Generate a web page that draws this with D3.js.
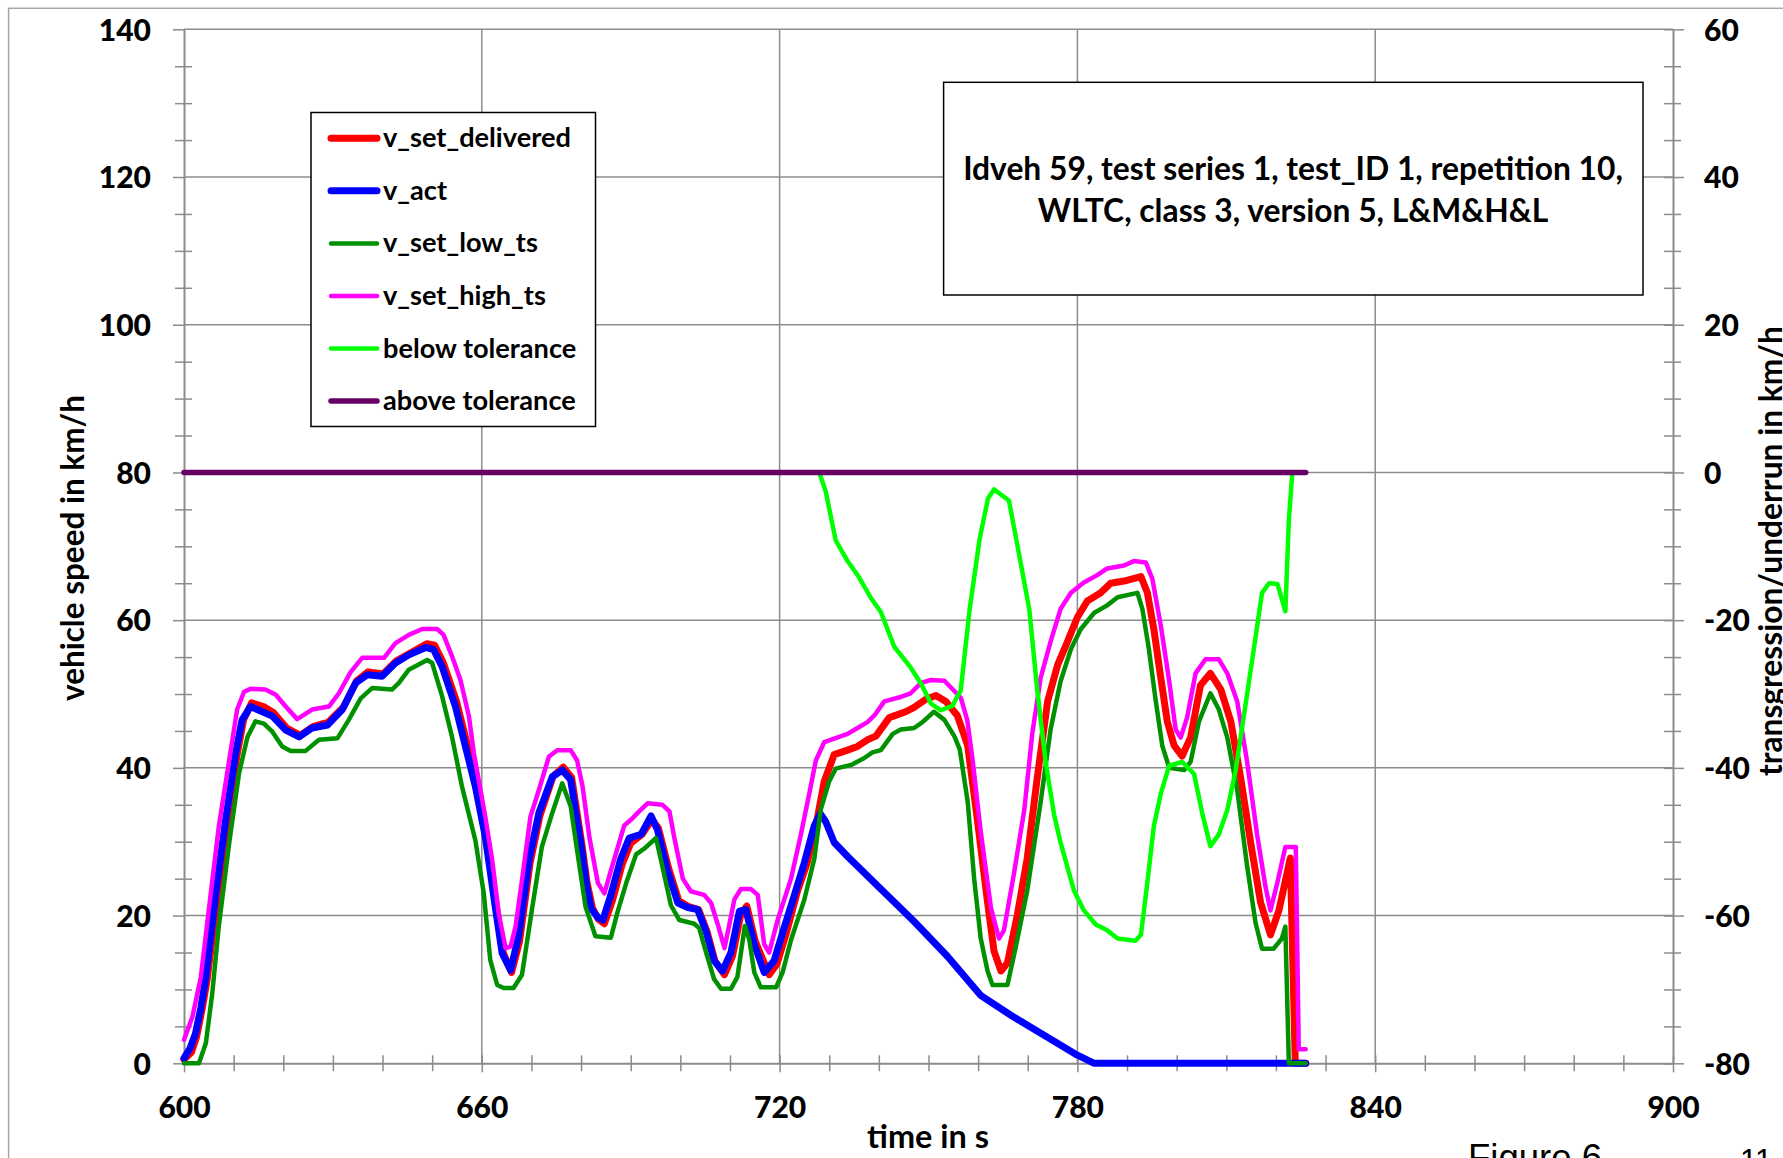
<!DOCTYPE html>
<html><head><meta charset="utf-8">
<script src="https://cdn.jsdelivr.net/npm/d3@7"></script>
<style>
html,body{margin:0;padding:0;background:#fff;overflow:hidden;}
svg{display:block;}
</style></head><body>
<svg id="chart" width="1783" height="1158"></svg>
<script>
// ---------------- DATA ----------------
const xTicks = [600, 660, 720, 780, 840, 900];
const xMinorTicks = [610,620,630,640,650,670,680,690,700,710,730,740,750,760,770,790,800,810,820,830,850,860,870,880,890];
const yLeftTicks = [0, 20, 40, 60, 80, 100, 120, 140];
const yRightTicks = [-80, -60, -40, -20, 0, 20, 40, 60];

const legendNames = ['v_set_delivered','v_act','v_set_low_ts','v_set_high_ts','below tolerance','above tolerance'];
const titleLines = ['Idveh 59, test series 1, test_ID 1, repetition 10,', 'WLTC, class 3, version 5, L&M&H&L'];

// [time in s, km/h]
const vSetDelivered = [[600,0.5],[601.5,1.5],[602.5,3.5],[603.7,7.5],[604.7,11.5],[606.7,22.5],[608.7,32.5],[610.7,41.8],[612,46.5],[613.6,48.8],[616,48.3],[618,47.5],[620.7,45.4],[623.4,44.4],[626,45.6],[629.1,46.2],[632.1,48.2],[634.8,51.8],[637.1,53],[640.1,52.7],[642.8,54.5],[645.5,55.5],[648.9,56.8],[650.5,56.6],[652.2,54.3],[654.9,49],[656.9,43.6],[658.9,38],[660.9,31],[663,21],[664.3,15],[666,12.3],[667.6,16.5],[669.7,27],[671.7,33.5],[674.4,38.9],[676.4,40.1],[678.1,38.7],[680.2,29.5],[681.2,24.5],[682.3,21],[683.5,19.5],[684.7,18.9],[686.3,22],[688.3,27],[690,29.8],[692.3,31],[694.3,33],[695.6,31.8],[697.6,26.5],[699.7,22],[701.7,21.2],[703.7,20.8],[705.4,17.8],[707,13.8],[708.9,12],[710.5,14.5],[712.2,20.2],[713.4,21.3],[715.1,16.5],[717.9,12],[719.5,13.5],[721.3,17.5],[723.6,23.3],[725.5,27],[727,31],[729,38.2],[731,41.8],[733.7,42.4],[735.7,42.9],[737.7,43.8],[739.4,44.3],[742.1,46.8],[745.4,47.6],[747.1,48.2],[749.5,49.3],[751.5,49.8],[753.5,49],[755.8,47.1],[757.9,43],[759.9,32.7],[761.9,21.8],[763.2,15.2],[764.6,12.5],[765.9,13.6],[767.9,20.1],[769.9,27.8],[771.9,38.6],[774,49],[776,53.9],[778,57.1],[780,60.4],[782,62.6],[784.7,63.7],[786.7,65],[789.4,65.3],[792.8,65.9],[794.1,63.7],[795.4,58.8],[796.8,52.2],[798.1,46.3],[799.5,43],[801.1,41.6],[802.8,44.1],[804.8,51.2],[806.8,52.8],[808.9,50.6],[810.9,46.3],[812.9,38.6],[814.9,29.9],[816.9,21.8],[818.9,17.4],[820.6,20.7],[822.9,27.8],[823.9,0],[826,0]];

const vAct = [[600,0.7],[601.2,2],[602.3,4],[603.4,7.5],[604.4,11.7],[606.4,23],[608.4,33],[610.4,42],[611.7,46.5],[613.4,48.3],[615.8,47.6],[617.8,47],[620.5,45.1],[623.2,44.2],[625.8,45.4],[628.9,45.8],[631.9,47.9],[634.6,51.5],[636.9,52.6],[639.9,52.4],[642.6,54.2],[645.3,55.3],[648.7,56.3],[650.3,56],[652,53.7],[654.7,48.3],[656.7,42.9],[658.7,37.5],[660.7,30.7],[662.8,20.8],[664.1,14.9],[665.8,12.6],[667.4,17.2],[669.5,27.5],[671.5,33.9],[674.2,38.8],[676.2,39.7],[677.9,38.4],[680,29.5],[681,24.5],[682,21],[683.3,19.8],[684.4,19.4],[686,22.8],[688,27.7],[689.7,30.5],[692.1,31],[694.1,33.5],[695.4,31.6],[697.4,26.1],[699.5,21.7],[701.5,21.1],[703.5,20.8],[705.2,17.8],[706.8,13.9],[708.5,12.5],[710.2,15],[711.9,20.6],[713.2,20.8],[714.9,16.1],[716.9,12.3],[718.9,13.9],[720.9,18.3],[723,22.8],[725,27.2],[727,32.2],[728.2,33.8],[729.3,32.7],[731,29.9],[733.7,28],[740.4,23.6],[747.1,19.2],[753.8,14.5],[760.5,9.2],[766.6,6.5],[773.3,3.8],[780,1.1],[783.4,0],[826,0]];

const vSetLowTs = [[600,0],[603,0],[604.4,2.7],[605.7,9.5],[607,18.5],[609.1,29.8],[611.1,39.3],[612.8,44.2],[614.4,46.3],[616.1,46],[617.8,44.9],[619.8,42.9],[621.5,42.3],[624.5,42.3],[627.2,43.8],[630.9,44],[633.2,46.5],[635.6,49.4],[637.9,50.8],[641.9,50.6],[643.3,51.5],[645.3,53.3],[649,54.6],[650,54.2],[652,49.7],[654,44.2],[656,37.5],[658.7,30.2],[660.4,23],[661.7,14],[663.1,10.6],[664.4,10.2],[666.4,10.2],[668.1,12],[670.1,20.8],[672.1,29.3],[674.2,33.9],[676.2,37.9],[677.9,34.8],[679.5,27.5],[680.9,21.2],[682.9,17.2],[686,17],[687.4,20.6],[689.1,24.4],[691.1,28.3],[692.8,29.1],[695.1,30.5],[696.4,26.6],[698.1,21.4],[699.8,19.4],[702.8,18.9],[703.8,18.3],[705.2,15],[706.8,11.4],[708.2,10.1],[710.2,10.1],[711.5,11.7],[713,18.6],[713.9,16.7],[714.9,12.3],[716.2,10.3],[719.3,10.3],[720.6,12.3],[722.3,16.7],[725,22.2],[727,27.7],[728.3,34.4],[730,38.2],[731.3,39.9],[734.4,40.4],[737,41.3],[738.7,42.1],[740.4,42.4],[742.8,44.6],[744.4,45.2],[747.1,45.4],[748.8,46.2],[751.1,47.6],[753.2,46.5],[755.2,44.3],[756.3,42.5],[757.9,35.4],[759.2,25],[760.5,17],[761.9,12.5],[762.9,10.6],[765.9,10.6],[767.6,15.8],[769.9,23.4],[772.6,35.4],[774.6,45.2],[776.6,51.7],[778.7,56.1],[780.7,58.8],[783.4,61],[786,62],[788.1,63.1],[792.1,63.7],[793.1,61.5],[794.4,56.1],[795.7,49.5],[797.1,43],[798.5,40],[801.5,39.7],[802.8,40.8],[804.5,46.3],[806.8,50.1],[808.5,47.9],[810.2,44.1],[812.2,37],[814.2,26.7],[815.9,19],[817.2,15.5],[819.5,15.5],[821.2,16.9],[821.9,18.5],[822.6,0],[826,0]];

const vSetHighTs = [[600,3.2],[601.7,6.3],[603.4,11.7],[605,20.8],[607,32],[609.1,41],[610.7,47.9],[612.1,50.3],[613.4,50.7],[616.4,50.6],[618.5,49.9],[620.5,48.3],[622.8,46.6],[625.8,47.9],[629.2,48.3],[631.2,50.1],[633.6,53],[635.9,54.9],[640.3,54.9],[642.6,56.9],[645.3,58],[648,58.8],[651,58.8],[652.3,58],[654,55.1],[655.7,51.9],[657.4,47],[658.4,42],[660.7,33.4],[662.1,27.5],[663.4,20.3],[664.8,15.6],[665.8,15.8],[666.8,18.5],[668.1,24.8],[669.8,33.4],[671.5,37],[673.5,41.5],[675.2,42.4],[677.9,42.4],[679.2,41],[680.3,37.5],[681.7,30.5],[683.4,24.4],[684.7,23],[686,26.1],[688.7,32.2],[690.1,33],[691.7,34.1],[693.4,35.2],[696.4,35],[697.8,34.1],[698.8,30.5],[700.5,25],[702.1,23.3],[704.8,22.8],[706.2,21.7],[707.5,18.9],[708.9,15.6],[710.9,22.2],[712.2,23.6],[714.2,23.6],[715.6,22.8],[716.9,16.1],[717.9,15],[719.6,19.4],[722.3,25],[724.3,31],[726,36.6],[727.3,41],[729,43.5],[733.7,44.6],[735.7,45.4],[737.7,46.2],[739.1,47.1],[741.1,49],[744.4,49.6],[746.4,50.1],[748.5,51.5],[750.5,51.9],[753.2,51.8],[755.2,50.4],[756.5,49.5],[757.8,46.5],[758.9,41],[760.5,31.5],[762.6,21],[764.2,16.9],[765.2,18],[767.2,25.6],[769.3,34.3],[770.9,44.6],[772.6,52.2],[774.6,57.1],[776.6,61.5],[778.7,63.7],[781.3,65.1],[784,66.1],[786,67],[789.4,67.4],[791.4,68],[793.8,67.8],[795.1,65.6],[796.8,59.3],[798.5,51.7],[799.8,45.2],[800.8,44.1],[802.1,46.8],[803.8,52.8],[805.8,54.7],[808.5,54.7],[810.2,52.8],[812.2,49],[814.2,40.8],[816.2,31],[817.9,23.9],[818.9,20.7],[820.3,24.5],[821.9,29.3],[824,29.3],[824.6,1.9],[826,1.9]];

// right axis, transgression/underrun in km/h
const belowTolerance = [[600,0],[728,0],[729.3,-2.6],[731.3,-9.2],[733.7,-12],[736,-14.2],[738.4,-17],[740.4,-18.9],[743.1,-23.6],[746.4,-26.4],[748.5,-28.6],[750.5,-31.3],[752.5,-32.2],[754.8,-31.6],[756.5,-29.5],[758.3,-18.5],[760.3,-9],[762,-3.5],[763.2,-2.3],[766.2,-3.8],[767.9,-9.8],[770.3,-18.5],[771.9,-29.4],[773.6,-39.2],[775.3,-46.3],[776.6,-50.1],[779.3,-56.6],[781.3,-59.3],[783.7,-61.2],[786,-62],[788.1,-63.1],[791.7,-63.4],[792.8,-62.6],[794.1,-55.5],[795.4,-47.9],[796.8,-43.5],[798.5,-39.7],[801.1,-39.2],[803.5,-40.8],[805.2,-46.3],[806.8,-50.6],[808.5,-49],[810.2,-45.7],[811.9,-40.3],[813.6,-32.7],[815.3,-25],[817.2,-16.3],[818.6,-15],[820.3,-15.1],[821.9,-18.8],[822.6,-6.5],[823.3,0]];
const aboveTolerance = [[600,0],[826,0]];

// ---------------- CHART ----------------
const W = 1783, H = 1158;
const X0 = 184, X1 = 1673, Y0 = 1063.3, Y1 = 29.3;
const FONT = "Lato, 'Open Sans', 'DejaVu Sans', sans-serif";
const GRID = '#8c8c8c';

const x = d3.scaleLinear().domain([600, 900]).range([X0, X1]);
const yL = d3.scaleLinear().domain([0, 140]).range([Y0, Y1]);
const yR = d3.scaleLinear().domain([-80, 60]).range([Y0, Y1]);
const plainFmt = d => String(d);

const svg = d3.select('#chart');
svg.append('rect').attr('width', W).attr('height', H).attr('fill', '#fff');
svg.append('rect').attr('x', 8.6).attr('y', 8.3).attr('width', W + 40).attr('height', H + 40)
  .attr('fill', 'none').attr('stroke', '#a6a6a6').attr('stroke-width', 1.5);

// gridlines
svg.append('g').selectAll('line').data(yLeftTicks.filter(d => d > 0)).join('line')
  .attr('x1', X0).attr('x2', X1).attr('y1', d => yL(d)).attr('y2', d => yL(d))
  .attr('stroke', GRID).attr('stroke-width', 1.5);
svg.append('g').selectAll('line').data(xTicks.filter(d => d > 600 && d < 900)).join('line')
  .attr('x1', d => x(d)).attr('x2', d => x(d)).attr('y1', Y1).attr('y2', Y0)
  .attr('stroke', GRID).attr('stroke-width', 1.5);

function styleAxis(g) {
  g.select('.domain').attr('stroke', GRID).attr('stroke-width', 2);
  g.selectAll('.tick line').attr('stroke', GRID).attr('stroke-width', 1.5);
  g.selectAll('text').attr('font-family', FONT).attr('font-weight', 900)
    .attr('font-size', 30).attr('fill', '#000');
}

// left axis
const gL = svg.append('g').attr('transform', `translate(${X0},0)`)
  .call(d3.axisLeft(yL).tickValues(yLeftTicks).tickSize(11).tickSizeOuter(0).tickPadding(22).tickFormat(plainFmt));
styleAxis(gL); gL.selectAll('text').attr('dy', '0.36em');
const gLm = svg.append('g').attr('transform', `translate(${X0},0)`)
  .call(d3.axisLeft(yL).tickValues(d3.range(5, 140, 5).filter(d => d % 20)).tickSize(9).tickSizeOuter(0).tickFormat(''));
gLm.select('.domain').remove();
gLm.selectAll('.tick line').attr('x1', 8).attr('stroke', GRID).attr('stroke-width', 1.5);

// right axis
const gR = svg.append('g').attr('transform', `translate(${X1},0)`)
  .call(d3.axisRight(yR).tickValues(yRightTicks).tickSize(11).tickSizeOuter(0).tickPadding(20).tickFormat(plainFmt));
styleAxis(gR); gR.selectAll('text').attr('dy', '0.36em');
gR.selectAll('.tick line').attr('x1', -9);
const gRm = svg.append('g').attr('transform', `translate(${X1},0)`)
  .call(d3.axisRight(yR).tickValues(d3.range(-75, 60, 5).filter(d => d % 20)).tickSize(8).tickSizeOuter(0).tickFormat(''));
gRm.select('.domain').remove();
gRm.selectAll('.tick line').attr('x1', -9).attr('stroke', GRID).attr('stroke-width', 1.5);

// bottom axis
const gB = svg.append('g').attr('transform', `translate(0,${Y0})`)
  .call(d3.axisBottom(x).tickValues(xTicks).tickSize(9).tickSizeOuter(0).tickFormat(plainFmt));
styleAxis(gB); gB.selectAll('text').attr('y', 55).attr('dy', '0');
gB.selectAll('.tick line').attr('y1', -8);
const gBm = svg.append('g').attr('transform', `translate(0,${Y0})`)
  .call(d3.axisBottom(x).tickValues(xMinorTicks).tickSize(8).tickSizeOuter(0).tickFormat(''));
gBm.select('.domain').remove();
gBm.selectAll('.tick line').attr('y1', -8).attr('stroke', GRID).attr('stroke-width', 1.5);

// series
const series = [
  { name: legendNames[0], data: vSetDelivered, color: '#ff0000', width: 7, y: yL },
  { name: legendNames[1], data: vAct, color: '#0000ff', width: 7, y: yL },
  { name: legendNames[2], data: vSetLowTs, color: '#009000', width: 4.5, y: yL },
  { name: legendNames[3], data: vSetHighTs, color: '#ff00ff', width: 4.5, y: yL },
  { name: legendNames[4], data: belowTolerance, color: '#00ff00', width: 4.5, y: yR },
  { name: legendNames[5], data: aboveTolerance, color: '#660066', width: 5.5, y: yR }
];
const gS = svg.append('g');
series.forEach(s => {
  const line = d3.line().x(d => x(d[0])).y(d => s.y(d[1]));
  gS.append('path').datum(s.data).attr('d', line).attr('fill', 'none')
    .attr('stroke', s.color).attr('stroke-width', s.width)
    .attr('stroke-linejoin', 'round').attr('stroke-linecap', 'round');
});

function fit(sel, target) {
  const w = sel.node().getComputedTextLength();
  const fs = parseFloat(sel.attr('font-size'));
  const nf = fs * target / w;
  sel.attr('font-size', nf);
  return nf;
}

// legend
const lg = svg.append('g');
lg.append('rect').attr('x', 311).attr('y', 112.5).attr('width', 284.5).attr('height', 314)
  .attr('fill', '#fff').attr('stroke', '#000').attr('stroke-width', 1.5);
const items = lg.selectAll('g.item').data(series).join('g').attr('class', 'item')
  .attr('transform', (d, i) => `translate(0,${138.3 + i * 52.55})`);
items.append('line').attr('x1', 331).attr('x2', 377).attr('y1', 0).attr('y2', 0)
  .attr('stroke', d => d.color).attr('stroke-width', d => d.width).attr('stroke-linecap', 'round');
const lt = items.append('text').attr('x', 383).attr('y', 9).text(d => d.name)
  .attr('font-family', FONT).attr('font-weight', 700).attr('font-size', 26).attr('fill', '#000');
const lfs = fit(d3.select(lt.nodes()[0]), 188);
lt.attr('font-size', lfs);

// title box
svg.append('rect').attr('x', 943.6).attr('y', 82.3).attr('width', 699.4).attr('height', 212.7)
  .attr('fill', '#fff').attr('stroke', '#000').attr('stroke-width', 1.5);
const tt = svg.append('g').selectAll('text').data(titleLines).join('text')
  .attr('x', 1293).attr('y', (d, i) => 180 + i * 41.7).attr('text-anchor', 'middle')
  .attr('font-family', FONT).attr('font-weight', 700).attr('font-size', 28).attr('fill', '#000')
  .text(d => d);
const tfs = fit(d3.select(tt.nodes()[0]), 660);
tt.attr('font-size', tfs);

// axis titles
const yt = svg.append('text').attr('transform', 'translate(84,548) rotate(-90)').attr('text-anchor', 'middle')
  .attr('font-family', FONT).attr('font-weight', 700).attr('font-size', 30).attr('fill', '#000')
  .text('vehicle speed in km/h');
fit(yt, 306);
const yt2 = svg.append('text').attr('transform', 'translate(1782,551) rotate(-90)').attr('text-anchor', 'middle')
  .attr('font-family', FONT).attr('font-weight', 700).attr('font-size', 30).attr('fill', '#000')
  .text('transgression/underrun in km/h');
fit(yt2, 450);
const xt = svg.append('text').attr('x', 928).attr('y', 1148).attr('text-anchor', 'middle')
  .attr('font-family', FONT).attr('font-weight', 700).attr('font-size', 30).attr('fill', '#000')
  .text('time in s');
fit(xt, 122);
const fg = svg.append('text').attr('x', 1468).attr('y', 1170)
  .attr('font-family', "'Liberation Sans', Arial, sans-serif").attr('font-size', 36).attr('fill', '#000')
  .text('Figure 6');
fit(fg, 134);
svg.append('text').attr('x', 1740).attr('y', 1171)
  .attr('font-family', "'Liberation Sans', Arial, sans-serif").attr('font-size', 31).attr('fill', '#000')
  .text('11');
</script>
</body></html>
